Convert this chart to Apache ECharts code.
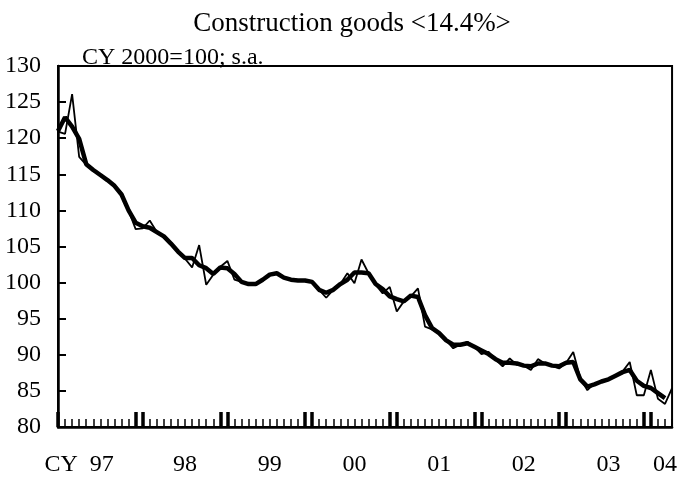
<!DOCTYPE html>
<html>
<head>
<meta charset="utf-8">
<script src="https://cdn.jsdelivr.net/npm/echarts@6/dist/echarts.min.js"></script>
<style>
  html, body { margin: 0; padding: 0; background: #fff; }
  #chart { width: 680px; height: 478px; }
</style>
</head>
<body>
<div id="chart"></div>
<script>
// Monthly index, Jan 1997 - Apr 2004 (CY 2000 = 100, seasonally adjusted)
const months = [];
for (let y = 1997; y <= 2004; y++) {
  for (let m = 1; m <= 12; m++) {
    if (y === 2004 && m > 4) break;
    months.push(y + '-' + (m < 10 ? '0' + m : m));
  }
}

const monthly = [
  120.9, 120.6, 126.1, 117.4, 116.3, 115.5, 114.9, 114.2, 113.4, 112.4, 110.0, 107.4,
  107.5, 108.6, 107.0, 106.4, 105.4, 104.3, 103.3, 102.1, 105.2, 99.7, 101.1, 102.2,
  103.0, 100.4, 100.1, 99.8, 99.8, 100.4, 101.2, 101.3, 100.7, 100.4, 100.3, 100.3,
  100.2, 99.0, 97.9, 99.0, 99.8, 101.3, 99.9, 103.2, 101.3, 99.7, 98.5, 99.4,
  96.0, 97.4, 98.1, 99.2, 93.9, 93.5, 93.0, 92.0, 90.9, 91.4, 91.8, 91.1,
  90.1, 90.4, 89.3, 88.4, 89.5, 88.6, 88.5, 87.9, 89.4, 88.8, 88.5, 88.1,
  88.9, 90.4, 86.8, 85.1, 86.0, 86.3, 86.6, 87.1, 87.7, 89.0, 84.4, 84.4,
  87.9, 83.9, 83.2, 85.4
];

// Three-month moving average, Jan 1997 - Mar 2004
const movingAvg = [
  121.0, 122.9, 121.6, 119.9, 116.4, 115.6, 114.9, 114.2, 113.4, 112.2, 110.0, 108.3,
  107.8, 107.6, 107.0, 106.4, 105.4, 104.3, 103.4, 103.4, 102.4, 102.0, 101.2, 102.1,
  102.0, 101.2, 100.1, 99.8, 99.8, 100.4, 101.1, 101.3, 100.7, 100.4, 100.3, 100.3,
  100.1, 99.0, 98.6, 99.0, 99.8, 100.4, 101.4, 101.4, 101.3, 99.8, 99.1, 98.1,
  97.7, 97.4, 98.2, 98.0, 95.5, 93.7, 93.0, 92.0, 91.4, 91.4, 91.6, 91.1,
  90.6, 90.1, 89.4, 88.9, 88.9, 88.8, 88.5, 88.4, 88.8, 88.8, 88.5, 88.4,
  88.9, 89.0, 86.6, 85.6, 85.9, 86.3, 86.6, 87.1, 87.6, 87.9, 86.4, 85.7,
  85.4, 84.7, 84.0
];

// Year labels on the time axis, keyed by month
const yearLabels = {
  '1997-04': 'CY  97', '1998-07': '98', '1999-07': '99', '2000-07': '00',
  '2001-07': '01', '2002-07': '02', '2003-07': '03', '2004-03': '04'
};

const yTicks = { min: 80, max: 130, step: 5 };

const serif = '"Liberation Serif", "Times New Roman", serif';
const chart = echarts.init(document.getElementById('chart'), null, { renderer: 'canvas' });

// Year boundaries are marked with heavy ticks on December and January
const isYearEdge = (i) => {
  const m = months[i].slice(5);
  return m === '12' || m === '01';
};

chart.setOption({
  animation: false,
  backgroundColor: '#fff',
  title: [
    {
      text: 'Construction goods <14.4%>',
      left: 347, top: 5, textAlign: 'center',
      textStyle: { fontFamily: serif, fontSize: 27, fontWeight: 'normal', color: '#000' }
    },
    {
      text: 'CY 2000=100; s.a.',
      left: 77, top: 41,
      textStyle: { fontFamily: serif, fontSize: 24, fontWeight: 'normal', color: '#000' }
    }
  ],
  grid: {
    left: 58, right: 6, top: 66, bottom: 51,
    show: true, borderColor: '#000', borderWidth: 2, backgroundColor: 'transparent'
  },
  xAxis: [
    {
      type: 'category',
      data: months,
      boundaryGap: false,
      axisLine: { show: true, lineStyle: { color: '#000', width: 2.5 } },
      axisTick: { show: true, inside: true, interval: 0, length: 8, lineStyle: { color: '#000', width: 1.5 } },
      axisLabel: {
        interval: 0,
        margin: 26,
        fontFamily: serif, fontSize: 24, color: '#000',
        formatter: (v) => yearLabels[v] || ''
      },
      splitLine: { show: false }
    },
    {
      type: 'category',
      data: months,
      boundaryGap: false,
      position: 'bottom',
      axisLine: { show: false },
      axisTick: {
        show: true, inside: true, length: 15,
        interval: (i) => isYearEdge(i) || i === 0,
        lineStyle: { color: '#000', width: 3.5 }
      },
      axisLabel: { show: false },
      splitLine: { show: false }
    }
  ],
  yAxis: {
    type: 'value',
    min: yTicks.min, max: yTicks.max, interval: yTicks.step,
    axisLine: { show: true, lineStyle: { color: '#000', width: 2.5 } },
    axisTick: { show: true, inside: true, length: 8, lineStyle: { color: '#000', width: 2 } },
    axisLabel: { margin: 17, fontFamily: serif, fontSize: 24, color: '#000' },
    splitLine: { show: false }
  },
  series: [
    {
      name: 'Monthly',
      type: 'line',
      data: monthly,
      symbol: 'none',
      lineStyle: { color: '#000', width: 1.8 },
      z: 3
    },
    {
      name: '3-month moving average',
      type: 'line',
      data: movingAvg,
      symbol: 'none',
      lineStyle: { color: '#000', width: 4.5 },
      z: 2
    }
  ]
});
</script>
</body>
</html>
